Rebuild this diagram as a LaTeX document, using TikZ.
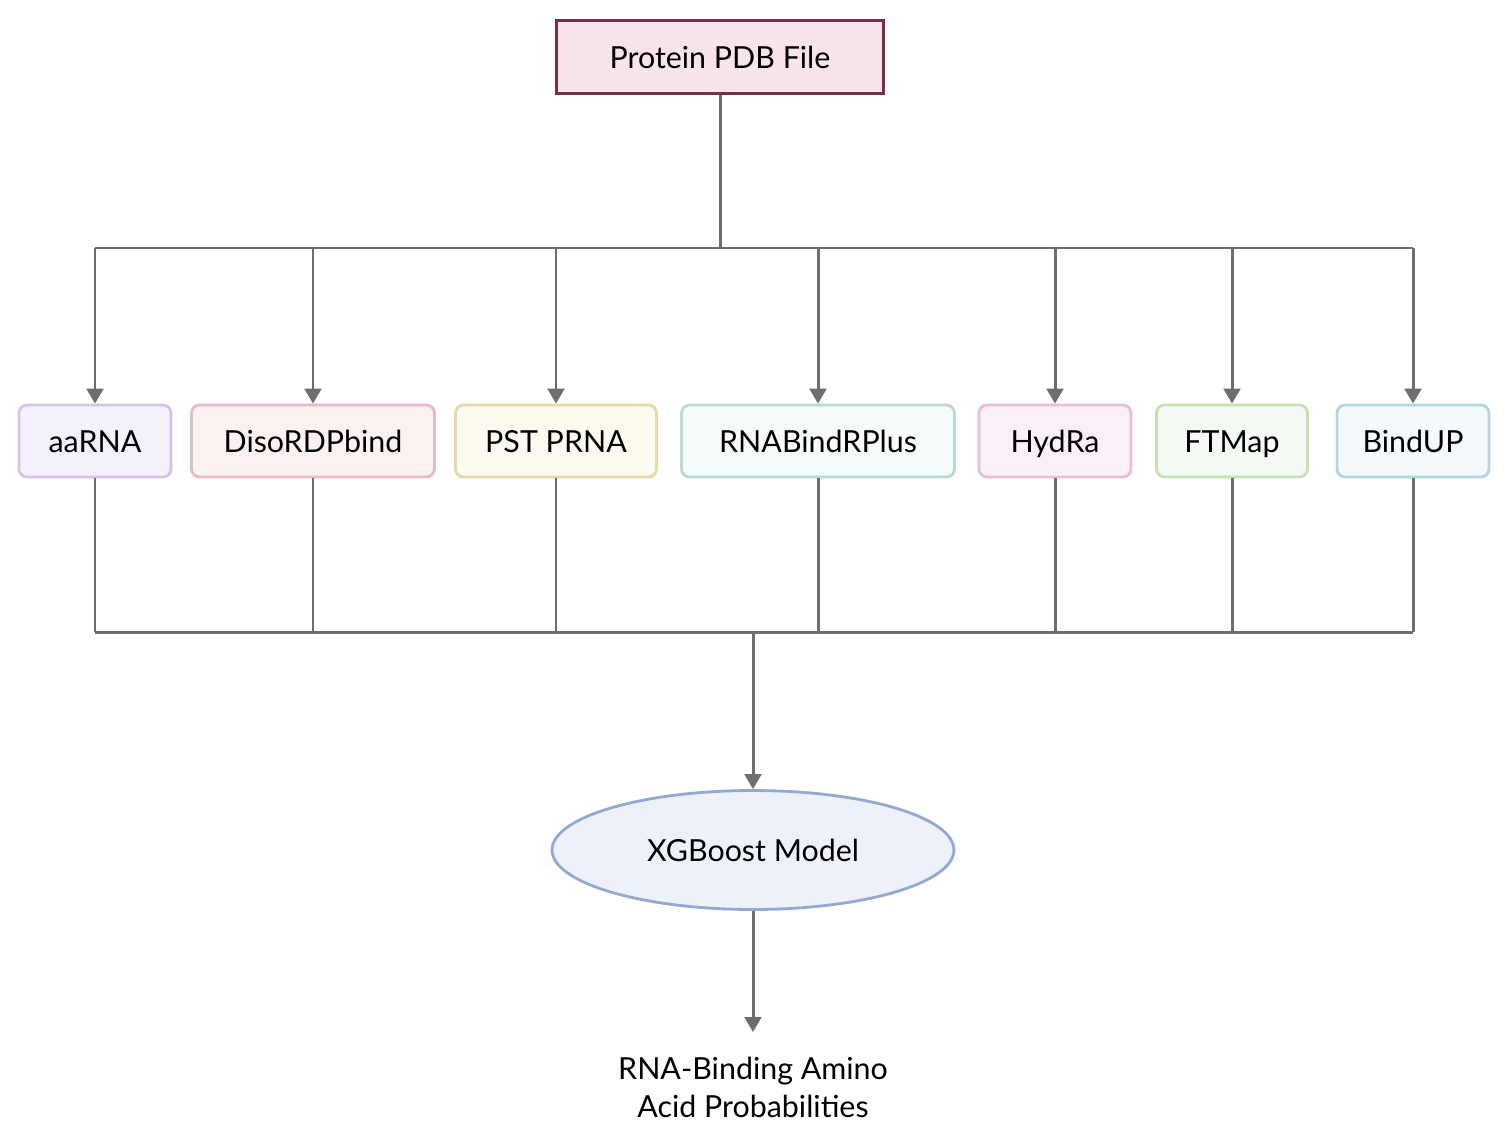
\documentclass[tikz,border=0pt]{standalone}
\usepackage{fontspec}
\setmainfont{Lato}
\usetikzlibrary{arrows.meta, positioning, calc, shapes.geometric}

\definecolor{linegray}{HTML}{6E6E6E}
\definecolor{pdbdraw}{HTML}{7B2D45}
\definecolor{pdbfill}{HTML}{F9E4E9}
\definecolor{aadraw}{HTML}{D5C3E8}
\definecolor{aafill}{HTML}{F4F0FC}
\definecolor{disodraw}{HTML}{E5BDBD}
\definecolor{disofill}{HTML}{FBF1F1}
\definecolor{pstdraw}{HTML}{E6DAAA}
\definecolor{pstfill}{HTML}{FCFAEE}
\definecolor{rbrdraw}{HTML}{BDD9D5}
\definecolor{rbrfill}{HTML}{F5FBFA}
\definecolor{hyddraw}{HTML}{E8BFD5}
\definecolor{hydfill}{HTML}{FBF0F7}
\definecolor{ftmdraw}{HTML}{C7E0B5}
\definecolor{ftmfill}{HTML}{F5FBF2}
\definecolor{bupdraw}{HTML}{B5D4E1}
\definecolor{bupfill}{HTML}{F4F9FD}
\definecolor{xgbdraw}{HTML}{94A8D2}
\definecolor{xgbfill}{HTML}{EDF2FA}

\begin{document}
\begin{tikzpicture}[x=0.02cm, y=-0.02cm,
  every node/.style={font=\fontsize{17.3}{21.5}\selectfont, align=center},
  label text/.style={text height=15.5pt, text depth=2.6pt},
  tool/.style={rectangle, rounded corners=0.16cm, draw, line width=1.6pt, minimum height=1.44cm, label text},
  link/.style={draw=linegray, line width=1.7pt},
  arr/.style={link, -{Triangle[length=8.5pt, width=9.5pt]}}]

\useasboundingbox (0,0) rectangle (1512,1136);

% Entrada
\node[rectangle, draw=pdbdraw, fill=pdbfill, line width=1.8pt, minimum width=6.54cm, minimum height=1.46cm,
  label text] (pdb) at (720,57) {Protein PDB File};

% Herramientas
\node[tool, draw=aadraw, fill=aafill, minimum width=3.04cm] (aarna) at (95,441) {aaRNA};
\node[tool, draw=disodraw, fill=disofill, minimum width=4.86cm] (diso) at (313,441) {DisoRDPbind};
\node[tool, draw=pstdraw, fill=pstfill, minimum width=4.02cm] (pst) at (556,441) {PST PRNA};
\node[tool, draw=rbrdraw, fill=rbrfill, minimum width=5.46cm] (rbr) at (818,441) {RNABindRPlus};
\node[tool, draw=hyddraw, fill=hydfill, minimum width=3.04cm] (hydra) at (1055,441) {HydRa};
\node[tool, draw=ftmdraw, fill=ftmfill, minimum width=3.02cm] (ftmap) at (1232,441) {FTMap};
\node[tool, draw=bupdraw, fill=bupfill, minimum width=3.04cm] (bindup) at (1413,441) {BindUP};

% Modelo y salida
\node[ellipse, draw=xgbdraw, fill=xgbfill, line width=1.6pt, inner sep=0pt, minimum width=8.04cm, minimum height=2.38cm,
  label text] (xgb) at (753,850) {XGBoost Model};
\node[anchor=north, inner xsep=0pt, inner ysep=0.5cm] (result) at (753,1032) {RNA-Binding Amino\\Acid Probabilities};

% Conexiones
\coordinate (busin) at (720,248);
\coordinate (busout) at (753,632);
\draw[link] (pdb.south) -- (busin);
\draw[link] (aarna |- busin) -- (bindup |- busin);
\draw[link] (aarna |- busout) -- (bindup |- busout);
\foreach \t in {aarna, diso, pst, rbr, hydra, ftmap, bindup} {
  \draw[arr] (\t |- busin) -- (\t.north);
  \draw[link] (\t.south) -- (\t |- busout);
}
\draw[arr] (busout) -- (xgb.north);
\draw[arr] (xgb.south) -- (result.north);

\end{tikzpicture}
\end{document}
